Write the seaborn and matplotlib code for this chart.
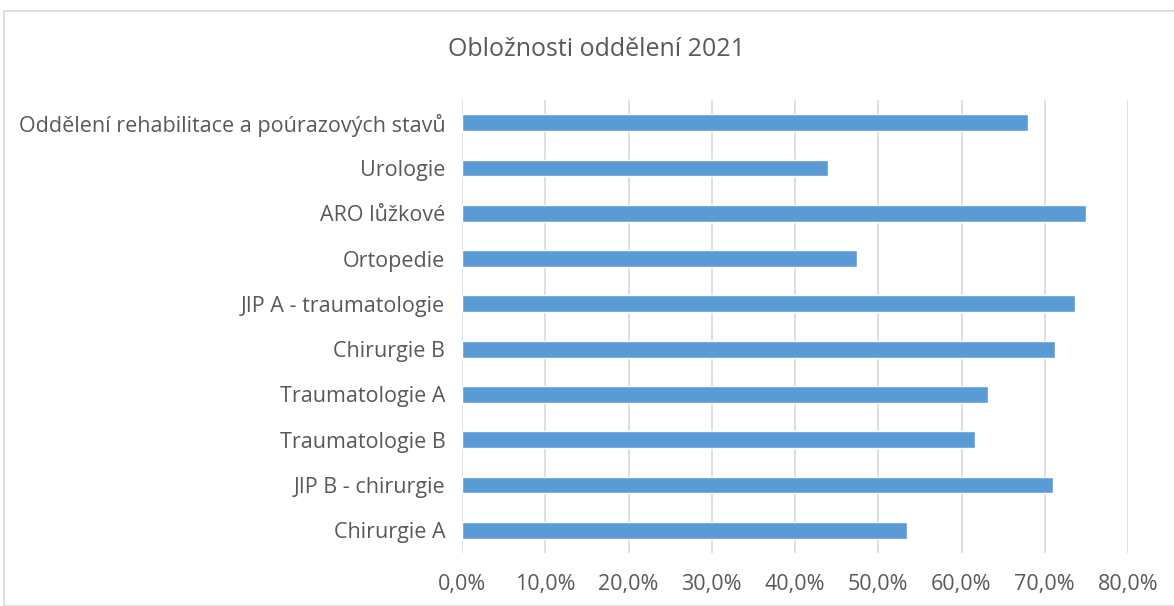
import matplotlib
matplotlib.use("Agg")
import matplotlib.pyplot as plt
import matplotlib.patches as mpatches
from matplotlib.ticker import FuncFormatter, MultipleLocator
import seaborn as sns
import pandas as pd

categories = [
    "Oddělení rehabilitace a poúrazových stavů",
    "Urologie",
    "ARO lůžkové",
    "Ortopedie",
    "JIP A - traumatologie",
    "Chirurgie B",
    "Traumatologie A",
    "Traumatologie B",
    "JIP B - chirurgie",
    "Chirurgie A",
]
values = [0.680, 0.440, 0.750, 0.474, 0.736, 0.712, 0.632, 0.616, 0.710, 0.534]
title = "Obložnosti oddělení 2021"

sns.set_theme(style="white")
plt.rcParams['font.family'] = ['Open Sans', 'DejaVu Sans']

df = pd.DataFrame({"oddeleni": categories, "obloznost": values})

fig = plt.figure(figsize=(11.74, 6.06), dpi=100)
ax = fig.add_axes([462/1174, 1 - 553/606, (1128-462)/1174, (553-100)/606])

sns.barplot(data=df, x="obloznost", y="oddeleni", order=categories,
            color="#5b9bd5", saturation=1, width=0.37, ax=ax, zorder=3)

ax.set_xlim(0, 0.8)
ax.xaxis.set_major_locator(MultipleLocator(0.1))
ax.xaxis.set_major_formatter(FuncFormatter(lambda v, p: f"{v*100:.1f}%".replace(".", ",")))
ax.grid(axis="x", color="#d9d9d9", linewidth=1.2, zorder=0)
ax.grid(axis="y", visible=False)
for s in ax.spines.values():
    s.set_visible(False)
ax.set_xlabel("")
ax.set_ylabel("")
ax.tick_params(axis="both", length=0, labelsize=15.5, colors="#595959")
ax.tick_params(axis="y", pad=12)
ax.tick_params(axis="x", pad=15)

fig.text(597/1174, 1 - 50/606, title, ha="center", va="center",
         fontsize=18, color="#595959")

fig.patches.append(mpatches.Rectangle((4/1174, 0), 1.2, 1 - 11/606, transform=fig.transFigure,
                                      fill=False, edgecolor="#d9d9d9", linewidth=1.2))

fig.savefig("out.png", dpi=100)
